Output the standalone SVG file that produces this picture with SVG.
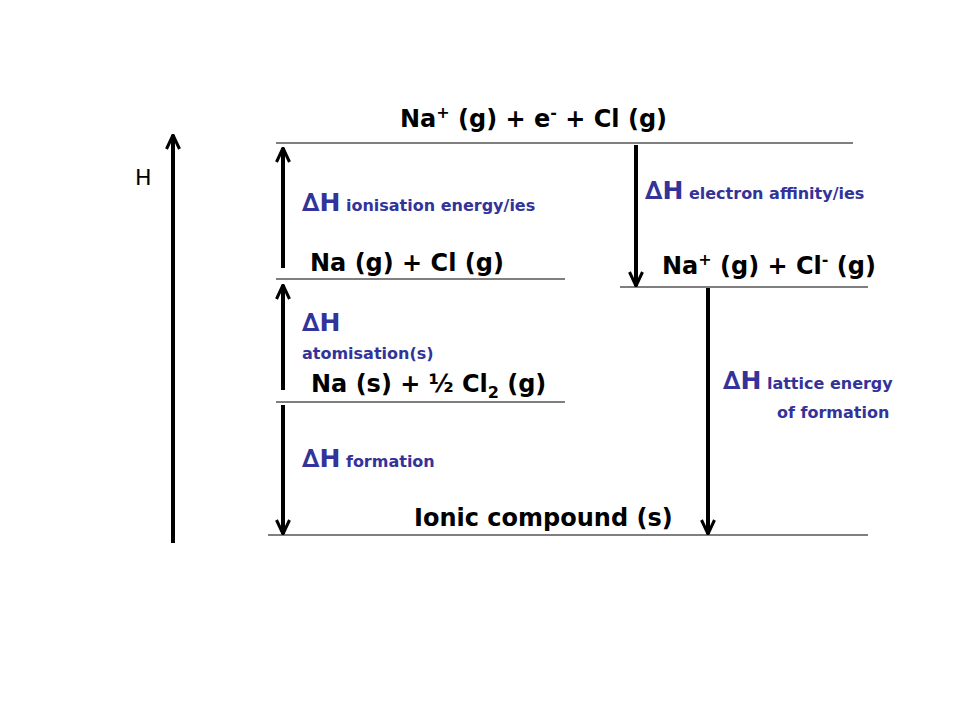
<svg xmlns="http://www.w3.org/2000/svg" width="960" height="720" viewBox="0 0 960 720">
<defs>
<marker id="ah" viewBox="0 0 16 16" refX="15" refY="8" markerWidth="16" markerHeight="16" markerUnits="userSpaceOnUse" orient="auto">
<polyline points="1,1.5 15,8 1,14.5" fill="none" stroke="#000" stroke-width="3"/>
</marker>
<style>
.lv{stroke:#000;stroke-width:1.2}
.ar{stroke:#000;stroke-width:4;fill:none;marker-end:url(#ah)}
.t{font-family:"DejaVu Sans",Verdana,sans-serif;font-weight:bold;fill:#000;font-size:24px}
.b{font-family:"DejaVu Sans",Verdana,sans-serif;font-weight:bold;fill:#333399}
.d{font-size:25px}
.s{font-size:16px}
</style>
</defs>
<rect width="960" height="720" fill="#fff"/>
<g id="axis">
<line x1="173" y1="543" x2="173" y2="135" class="ar"/>
<text x="135" y="185" font-family="DejaVu Sans,sans-serif" font-size="22">H</text>
</g>
<g id="levels">
<g id="l1"><line x1="276" y1="143" x2="853" y2="143" class="lv"/><text x="400" y="127" class="t">Na<tspan font-size="16" dy="-9">+</tspan><tspan dy="9"> (g) + e</tspan><tspan font-size="16" dy="-9">-</tspan><tspan dy="9"> + Cl (g)</tspan></text></g>
<g id="l2"><line x1="276" y1="279" x2="565" y2="279" class="lv"/><text x="310" y="271" class="t">Na (g) + Cl (g)</text></g>
<g id="l3"><line x1="620" y1="287" x2="868" y2="287" class="lv"/><text x="662" y="274" class="t">Na<tspan font-size="16" dy="-9">+</tspan><tspan dy="9"> (g) + Cl</tspan><tspan font-size="16" dy="-9">-</tspan><tspan dy="9"> (g)</tspan></text></g>
<g id="l4"><line x1="276" y1="402" x2="565" y2="402" class="lv"/><text x="311" y="392" class="t">Na (s) + ½ Cl<tspan font-size="16" dy="6">2</tspan><tspan dy="-6"> (g)</tspan></text></g>
<g id="l5"><line x1="268" y1="535" x2="868" y2="535" class="lv"/><text x="414" y="526" class="t">Ionic compound (s)</text></g>
</g>
<g id="connectors">
<line x1="283" y1="268" x2="283" y2="148" class="ar"/>
<line x1="283" y1="390" x2="283" y2="285" class="ar"/>
<line x1="283" y1="405" x2="283" y2="534" class="ar"/>
<line x1="636" y1="145" x2="636" y2="286" class="ar"/>
<line x1="708" y1="288" x2="708" y2="534" class="ar"/>
</g>
<g id="labels">
<text x="302" y="211" class="b"><tspan class="d">∆H</tspan><tspan class="s"> ionisation energy/ies</tspan></text>
<text x="645" y="199" class="b"><tspan class="d">∆H</tspan><tspan class="s"> electron affinity/ies</tspan></text>
<text x="302" y="331" class="b d">∆H</text>
<text x="302" y="359" class="b s">atomisation(s)</text>
<text x="723" y="389" class="b"><tspan class="d">∆H</tspan><tspan class="s"> lattice energy</tspan></text>
<text x="777" y="418" class="b s">of formation</text>
<text x="302" y="467" class="b"><tspan class="d">∆H</tspan><tspan class="s"> formation</tspan></text>
</g>
</svg>
